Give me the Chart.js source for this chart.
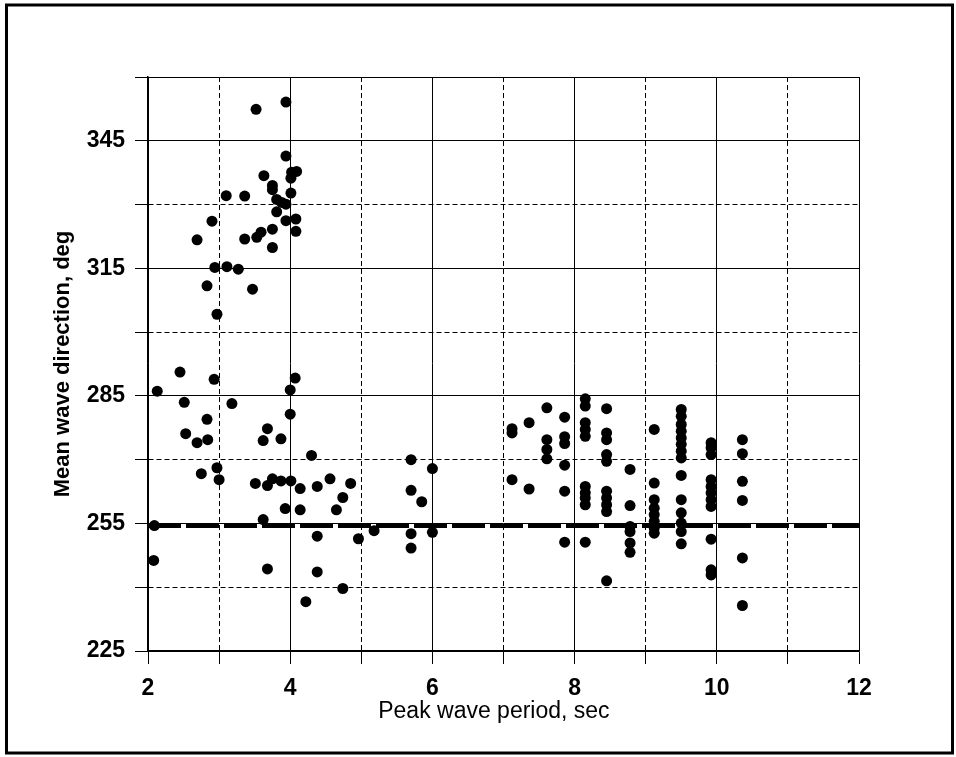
<!DOCTYPE html>
<html>
<head>
<meta charset="utf-8">
<script src="https://cdn.jsdelivr.net/npm/chart.js@4.4.1/dist/chart.umd.min.js"></script>
<style>
    html, body { margin: 0; padding: 0; background: #fff; }
    canvas { display: block; }
</style>
</head>
<body>
<canvas id="chart" width="956" height="757"></canvas>
<script>
// Peak wave period (sec) and mean wave direction (deg), one entry per observation
const period = [
    // high cluster, 3-4 sec
    3.52, 3.94, 3.94, 4.09, 4.02, 4.01, 3.63, 3.75, 3.75, 4.01, 3.10, 3.36, 3.81, 3.88, 3.94, 3.81,
    3.94, 4.08, 4.08, 2.90, 2.69, 3.36, 3.53, 3.59, 3.75, 3.75, 2.94, 3.11, 3.27, 2.83, 3.47, 2.97,
    // 265-291 deg, short periods
    2.45, 2.93, 4.07, 2.13, 4.00, 2.51, 3.18, 4.00, 2.83, 3.68, 2.53, 2.84, 2.69, 3.62, 3.87, 4.30,
    2.97, 2.75, 3.00,
    // low band, 2-6 sec
    3.51, 3.68, 3.75, 3.87, 4.01, 4.14, 4.38, 4.56, 4.85, 4.74, 4.65, 3.93, 4.14, 3.62, 2.09, 2.08,
    4.38, 4.96, 5.18, 3.68, 4.38, 4.74, 4.22, 5.70, 6.00, 5.70, 5.85, 5.70, 5.70, 6.00,
    // long periods, 7-10.4 sec
    7.12, 7.12, 7.12,
    7.36, 7.36,
    7.61, 7.61, 7.61, 7.61,
    7.86, 7.86, 7.86, 7.86, 7.86, 7.86,
    8.15, 8.15, 8.15, 8.15, 8.15, 8.15, 8.15, 8.15, 8.15, 8.15,
    8.45, 8.45, 8.45, 8.45, 8.45, 8.45, 8.45, 8.45, 8.45, 8.45,
    8.78, 8.78, 8.78, 8.78, 8.78, 8.78,
    9.12, 9.12, 9.12, 9.12, 9.12, 9.12, 9.12, 9.12,
    9.50, 9.50, 9.50, 9.50, 9.50, 9.50, 9.50, 9.50, 9.50, 9.50, 9.50, 9.50, 9.50, 9.50,
    9.92, 9.92, 9.92, 9.92, 9.92, 9.92, 9.92, 9.92, 9.92, 9.92, 9.92,
    10.36, 10.36, 10.36, 10.36, 10.36, 10.36
];
const direction = [
    352.4, 354.1, 341.4, 337.8, 337.6, 336.2, 336.8, 334.5, 333.5, 332.7, 332.1, 332.0, 331.2, 330.5, 330.1, 328.3,
    326.2, 326.6, 323.7, 326.1, 321.7, 321.9, 322.3, 323.5, 324.2, 319.9, 315.2, 315.4, 314.8, 310.9, 310.1, 304.2,
    290.6, 288.9, 289.2, 286.1, 286.4, 283.5, 283.2, 280.7, 279.5, 277.3, 276.1, 274.7, 274.0, 274.5, 274.9, 271.0,
    268.1, 266.7, 265.3,
    264.4, 263.9, 265.5, 265.0, 265.0, 263.2, 263.7, 265.5, 264.4, 261.1, 258.2, 258.5, 258.2, 255.9, 254.5, 246.3,
    252.0, 251.4, 253.3, 244.3, 243.6, 239.7, 236.6, 270.0, 267.9, 262.8, 260.1, 252.6, 249.2, 252.9,
    277.3, 276.3, 265.3,
    278.7, 263.1,
    282.2, 274.7, 272.4, 270.2,
    280.0, 275.4, 273.8, 268.7, 262.6, 250.6,
    284.3, 282.6, 278.7, 277.1, 275.5, 263.7, 262.2, 261.0, 259.4, 250.6,
    282.0, 276.3, 274.7, 271.2, 269.6, 262.6, 261.0, 259.4, 257.8, 241.5,
    267.7, 259.2, 254.3, 253.1, 250.4, 248.2,
    277.1, 264.5, 260.6, 258.6, 257.1, 255.5, 253.9, 252.7,
    281.8, 280.2, 278.3, 276.7, 275.1, 273.6, 272.0, 270.4, 266.3, 260.6, 257.5, 255.1, 253.1, 250.2,
    274.0, 272.8, 271.2, 265.3, 263.7, 262.2, 260.6, 259.0, 251.3, 244.1, 242.9,
    274.7, 271.4, 264.9, 260.4, 246.9, 235.7
];

// shoreline-normal reference direction (thick dashed line)
const refDirection = 254.4;
const refPeriods = [2, 12];

// axis ranges and tick steps
const xRange = [2, 12];
const xStep = 1;
const yRange = [225, 360];
const yStep = 15;

const points = period.map((p, i) => ({ x: p, y: direction[i] }));
const refLine = refPeriods.map(p => ({ x: p, y: refDirection }));

// white page + outer frame
const framePlugin = {
    id: 'frame',
    beforeDraw(chart) {
        const ctx = chart.ctx;
        ctx.save();
        ctx.fillStyle = '#fff';
        ctx.fillRect(0, 0, chart.width, chart.height);
        ctx.restore();
    },
    afterDraw(chart) {
        const ctx = chart.ctx;
        ctx.save();
        ctx.strokeStyle = '#000';
        ctx.lineWidth = 3;
        ctx.strokeRect(6.5, 5, 946, 748);
        ctx.restore();
    }
};

const isMinorX = v => v % 2 !== 0;
const isMinorY = v => (v - yRange[0]) % 30 !== 0 && v !== yRange[1];

new Chart(document.getElementById('chart').getContext('2d'), {
    type: 'scatter',
    data: {
        datasets: [
            {
                label: 'Observed',
                data: points,
                backgroundColor: '#000',
                borderColor: '#000',
                borderWidth: 0,
                pointRadius: 5.5,
                pointHoverRadius: 5.5,
                order: 0
            },
            {
                type: 'line',
                label: 'Reference',
                data: refLine,
                borderColor: '#000',
                borderWidth: 4,
                borderDash: [33, 5],
                pointRadius: 0,
                fill: false,
                order: 1
            }
        ]
    },
    options: {
        responsive: false,
        animation: false,
        devicePixelRatio: 1,
        layout: {
            padding: { left: 0, right: 97, top: 77, bottom: 0 }
        },
        plugins: {
            legend: { display: false },
            tooltip: { enabled: false }
        },
        scales: {
            x: {
                type: 'linear',
                min: xRange[0],
                max: xRange[1],
                afterFit: scale => { scale.height = 106; },
                ticks: {
                    stepSize: xStep,
                    autoSkip: false,
                    maxRotation: 0,
                    padding: 11,
                    color: '#000',
                    font: { family: 'Liberation Sans, Arial, sans-serif', size: 23, weight: 'bold' },
                    callback: v => (v % 2 === 0 ? v : '')
                },
                grid: {
                    color: '#000',
                    lineWidth: 1,
                    tickLength: 13,
                    tickColor: '#000'
                },
                border: {
                    display: true,
                    color: '#000',
                    width: 1.5,
                    dash: ctx => (ctx.tick && isMinorX(ctx.tick.value) ? [5, 3] : [])
                },
                title: {
                    display: true,
                    // trailing spaces nudge the centred title a bit left, as in the scan
                    text: 'Peak wave period, sec   ',
                    color: '#000',
                    font: { family: 'Liberation Sans, Arial, sans-serif', size: 23 },
                    padding: { top: 0, bottom: 32 }
                }
            },
            y: {
                type: 'linear',
                min: yRange[0],
                max: yRange[1],
                afterFit: scale => { scale.width = 148; },
                ticks: {
                    stepSize: yStep,
                    autoSkip: false,
                    padding: 10,
                    color: '#000',
                    font: { family: 'Liberation Sans, Arial, sans-serif', size: 23, weight: 'bold' },
                    callback: v => (isMinorY(v) || v === yRange[1] ? '' : v)
                },
                grid: {
                    color: '#000',
                    lineWidth: 1,
                    tickLength: 13,
                    tickColor: '#000'
                },
                border: {
                    display: true,
                    color: '#000',
                    width: 1.5,
                    dash: ctx => (ctx.tick && isMinorY(ctx.tick.value) ? [5, 3] : [])
                },
                title: {
                    display: true,
                    text: 'Mean wave direction, deg',
                    color: '#000',
                    font: { family: 'Liberation Sans, Arial, sans-serif', size: 22, weight: 'bold' },
                    padding: { top: 50, bottom: 0 }
                }
            }
        }
    },
    plugins: [framePlugin]
});
</script>
</body>
</html>
